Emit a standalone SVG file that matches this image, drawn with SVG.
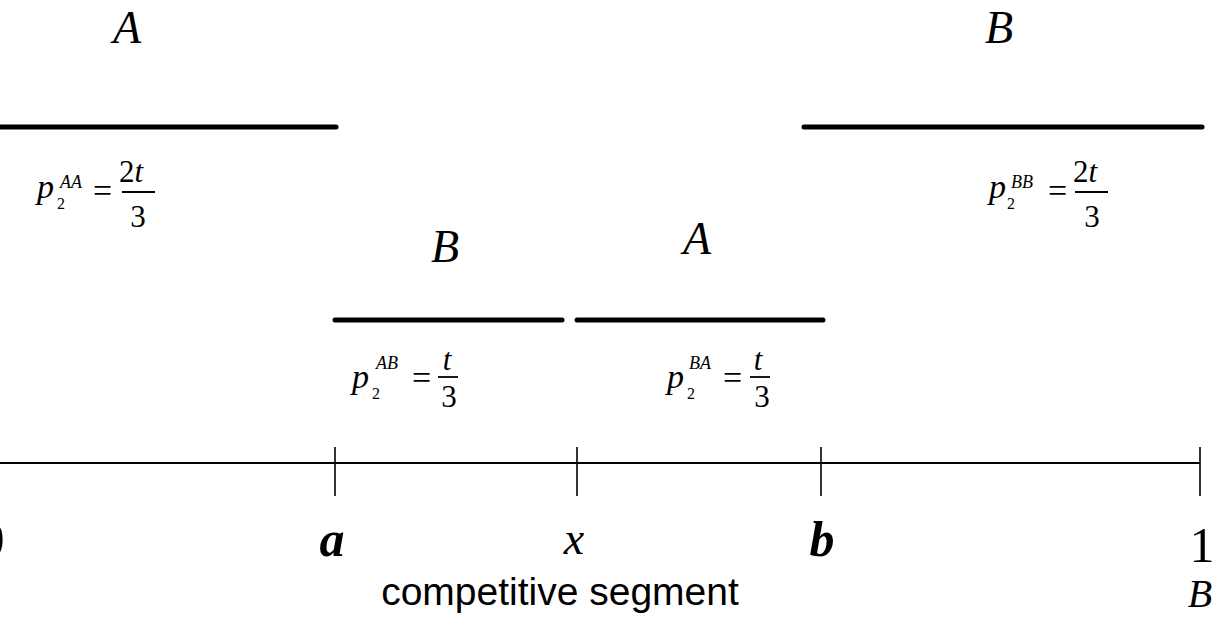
<svg xmlns="http://www.w3.org/2000/svg" width="1214" height="633" viewBox="0 0 1214 633">
<style>
.bar{stroke:#000;stroke-width:5;stroke-linecap:round;fill:none}
.axis{stroke:#000;stroke-width:2;fill:none}
.tick{stroke:#000;stroke-width:1.6;fill:none}
.frac{stroke:#000;stroke-width:1.8}
.it{font-family:"Liberation Serif","Times New Roman",serif;font-style:italic;fill:#000}
.rm{font-family:"Liberation Serif","Times New Roman",serif;fill:#000}
.bi{font-family:"Liberation Serif","Times New Roman",serif;font-style:italic;font-weight:bold;fill:#000}
.big{font-size:46px}
.p{font-size:34px}
.s{font-size:18px}
.sb{font-size:16px}
.n{font-size:31px}
.sans{font-family:"Liberation Sans",Arial,sans-serif;font-size:39px;fill:#000}
</style>
<rect width="1214" height="633" fill="#fff"/>
<g id="connectors">
<line class="bar" x1="-5" y1="127" x2="336" y2="127"/>
<line class="bar" x1="804" y1="127" x2="1202" y2="127"/>
<line class="bar" x1="335" y1="320" x2="562" y2="320"/>
<line class="bar" x1="577" y1="320" x2="823" y2="320"/>
<line class="axis" x1="0" y1="463" x2="1200" y2="463"/>
<line class="tick" x1="335" y1="447" x2="335" y2="496"/>
<line class="tick" x1="577" y1="447" x2="577" y2="496"/>
<line class="tick" x1="821" y1="447" x2="821" y2="496"/>
<line class="tick" x1="1200" y1="447" x2="1200" y2="496"/>
</g>
<g id="segAA">
<text class="it big" x="127" y="43" text-anchor="middle">A</text>
<text class="it p" x="37" y="198">p</text>
<text class="it s" x="60" y="188">AA</text>
<text class="rm sb" x="57" y="209">2</text>
<text class="rm p" x="93" y="202">=</text>
<text class="rm n" x="131" y="182" text-anchor="middle">2<tspan class="it">t</tspan></text>
<line class="frac" x1="122" y1="192" x2="155" y2="192"/>
<text class="rm n" x="138" y="227" text-anchor="middle">3</text>
</g>
<g id="segBB">
<text class="it big" x="999" y="43" text-anchor="middle">B</text>
<text class="it p" x="989" y="198">p</text>
<text class="it s" x="1011" y="188">BB</text>
<text class="rm sb" x="1007" y="209">2</text>
<text class="rm p" x="1048" y="202">=</text>
<text class="rm n" x="1085" y="182" text-anchor="middle">2<tspan class="it">t</tspan></text>
<line class="frac" x1="1075" y1="192" x2="1108" y2="192"/>
<text class="rm n" x="1092" y="227" text-anchor="middle">3</text>
</g>
<g id="segAB">
<text class="it big" x="445" y="262" text-anchor="middle">B</text>
<text class="it p" x="352" y="388">p</text>
<text class="it s" x="376" y="369">AB</text>
<text class="rm sb" x="372" y="399">2</text>
<text class="rm p" x="412" y="389">=</text>
<text class="it n" x="447" y="370" text-anchor="middle">t</text>
<line class="frac" x1="438" y1="377" x2="458" y2="377"/>
<text class="rm n" x="449" y="407" text-anchor="middle">3</text>
</g>
<g id="segBA">
<text class="it big" x="697" y="254" text-anchor="middle">A</text>
<text class="it p" x="667" y="388">p</text>
<text class="it s" x="689" y="369">BA</text>
<text class="rm sb" x="687" y="399">2</text>
<text class="rm p" x="723" y="389">=</text>
<text class="it n" x="758" y="370" text-anchor="middle">t</text>
<line class="frac" x1="750" y1="377" x2="770" y2="377"/>
<text class="rm n" x="762" y="407" text-anchor="middle">3</text>
</g>
<g id="axis-labels">
<text class="rm" font-size="50" x="-8" y="556" text-anchor="middle">0</text>
<text class="bi" font-size="50" x="332" y="556" text-anchor="middle">a</text>
<text class="it" font-size="46" x="574" y="554" text-anchor="middle">x</text>
<text class="bi" font-size="50" x="822" y="556" text-anchor="middle">b</text>
<text class="rm" font-size="50" x="1202" y="562" text-anchor="middle">1</text>
<text class="it" font-size="40" x="1200" y="607" text-anchor="middle">B</text>
<text class="sans" x="560" y="605" text-anchor="middle">competitive segment</text>
</g>
</svg>
